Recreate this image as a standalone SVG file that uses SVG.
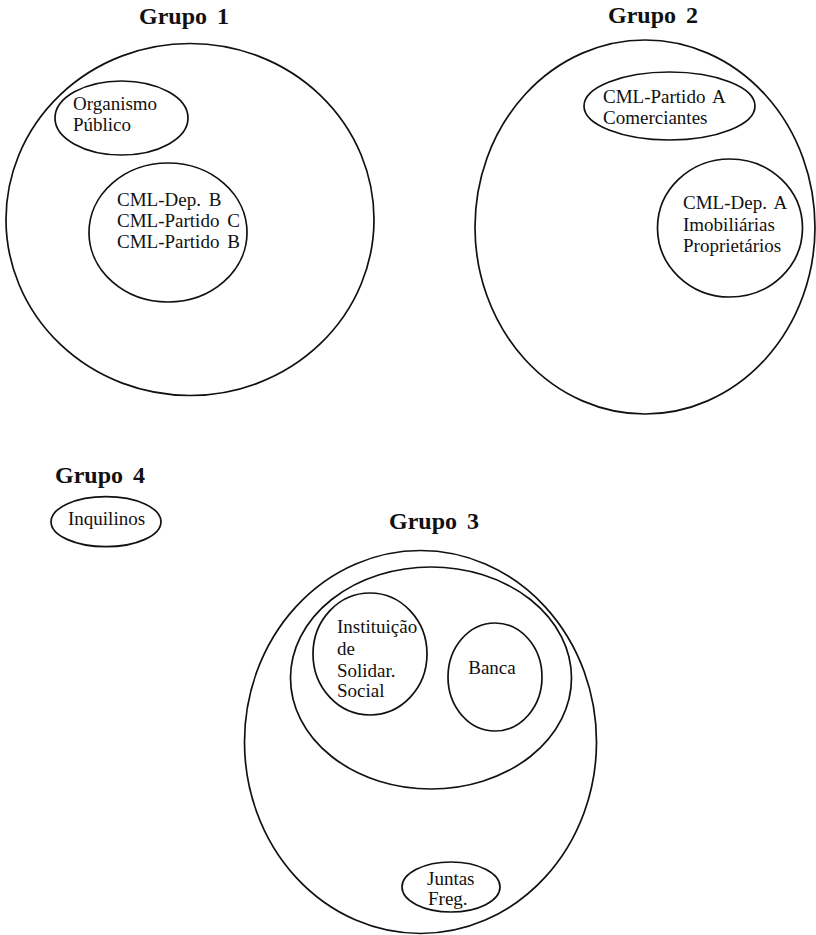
<svg xmlns="http://www.w3.org/2000/svg" width="816" height="935" viewBox="0 0 816 935">
<style>
.s{fill:none;stroke:#111;stroke-width:1.7}
.t{font-family:"Liberation Serif","Times New Roman",serif;font-size:19px;fill:#111;word-spacing:3px}
.h{font-family:"Liberation Serif","Times New Roman",serif;font-size:24px;font-weight:bold;fill:#111;word-spacing:4px}
</style>
<rect width="816" height="935" fill="#fff"/>
<g id="grupo1">
<text class="h" x="184" y="24" text-anchor="middle">Grupo 1</text>
<ellipse class="s" cx="190" cy="219.5" rx="184" ry="176"/>
</g>
<g id="organismo-publico">
<ellipse class="s" cx="121.5" cy="118" rx="66.5" ry="37"/>
<text class="t" x="73" y="110">Organismo</text>
<text class="t" x="73" y="131">Público</text>
</g>
<g id="cml-dep-b">
<ellipse class="s" cx="168" cy="232.5" rx="79" ry="69.5"/>
<text class="t" x="117" y="206">CML-Dep. B</text>
<text class="t" x="117" y="227">CML-Partido C</text>
<text class="t" x="117" y="248">CML-Partido B</text>
</g>
<g id="grupo2">
<text class="h" x="653" y="23" text-anchor="middle">Grupo 2</text>
<ellipse class="s" cx="645" cy="227" rx="170" ry="187"/>
</g>
<g id="cml-partido-a">
<ellipse class="s" cx="669.5" cy="106" rx="85.5" ry="34"/>
<text class="t" x="603" y="103">CML-Partido A</text>
<text class="t" x="603" y="124">Comerciantes</text>
</g>
<g id="cml-dep-a">
<ellipse class="s" cx="730" cy="228" rx="72.5" ry="69"/>
<text class="t" x="683" y="209">CML-Dep. A</text>
<text class="t" x="683" y="231">Imobiliárias</text>
<text class="t" x="683" y="252">Proprietários</text>
</g>
<g id="grupo4">
<text class="h" x="55" y="483">Grupo 4</text>
</g>
<g id="inquilinos">
<ellipse class="s" cx="106" cy="521.7" rx="55" ry="25"/>
<text class="t" x="68" y="525">Inquilinos</text>
</g>
<g id="grupo3">
<text class="h" x="434" y="529" text-anchor="middle">Grupo 3</text>
<ellipse class="s" cx="420.5" cy="742" rx="176" ry="191.5"/>
</g>
<g id="grupo3-inner">
<ellipse class="s" cx="431" cy="678" rx="140.5" ry="111"/>
</g>
<g id="instituicao">
<ellipse class="s" cx="370" cy="654" rx="57" ry="61"/>
<text class="t" x="337" y="633">Instituição</text>
<text class="t" x="337" y="655">de</text>
<text class="t" x="337" y="677">Solidar.</text>
<text class="t" x="337" y="697">Social</text>
</g>
<g id="banca">
<ellipse class="s" cx="495" cy="677" rx="47" ry="54"/>
<text class="t" x="492" y="674" text-anchor="middle">Banca</text>
</g>
<g id="juntas-freg">
<ellipse class="s" cx="451" cy="887" rx="49" ry="25"/>
<text class="t" x="427" y="885">Juntas</text>
<text class="t" x="428" y="905">Freg.</text>
</g>
<g id="connectors"/>
</svg>
